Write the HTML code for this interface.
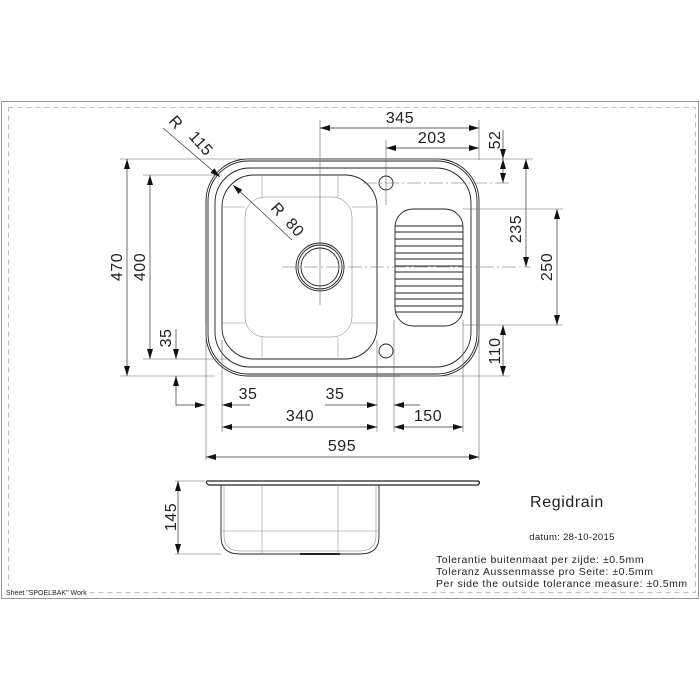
<!DOCTYPE html>
<html><head><meta charset="utf-8"><style>
html,body{margin:0;padding:0;background:#fff;}
svg{display:block;}
text{font-family:"Liberation Sans",sans-serif;fill:#222;}
</style></head><body>
<svg width="700" height="700" viewBox="0 0 700 700" xmlns="http://www.w3.org/2000/svg">
<defs>
<marker id="a" viewBox="0 0 10 6" refX="10" refY="3" markerWidth="10" markerHeight="6" markerUnits="userSpaceOnUse" orient="auto-start-reverse">
<path d="M0,0 L10,3 L0,6 Z" fill="#111"/></marker>
<clipPath id="dr"><path d="M413 209 H445 A18 18 0 0 1 463 227 V308 A18 18 0 0 1 445 326 H413 A18 18 0 0 1 395 308 V227 A18 18 0 0 1 413 209 Z"/></clipPath>
</defs>
<!-- frame -->
<rect x="1.5" y="101.5" width="697" height="497" fill="none" stroke="#999" stroke-width="1"/>
<rect x="8.5" y="107.5" width="687" height="485" fill="none" stroke="#aaa" stroke-width="0.8" stroke-dasharray="5,4"/>
<rect x="6" y="586" width="80" height="10" fill="#fff"/>
<text x="6" y="595" font-size="7">Sheet "SPOELBAK" Work</text>

<g fill="none" stroke="#222" stroke-width="0.9">
<rect x="206" y="159" width="273" height="217" rx="42"/>
<rect x="208" y="161" width="269" height="213" rx="40"/>
<rect x="215" y="168" width="256" height="199" rx="35"/>
<rect x="222" y="175" width="155" height="184" rx="32"/>
<rect x="245" y="197" width="107" height="140" rx="20" stroke-width="0.5" stroke="#777"/>
<g stroke="#888" stroke-width="0.5">
<line x1="262" y1="175" x2="262" y2="197"/><line x1="338" y1="175" x2="338" y2="197"/>
<line x1="262" y1="337" x2="262" y2="359"/><line x1="338" y1="337" x2="338" y2="359"/>
<line x1="222" y1="207" x2="245" y2="207"/><line x1="222" y1="323" x2="245" y2="323"/>
<line x1="352" y1="207" x2="377" y2="207"/><line x1="352" y1="323" x2="377" y2="323"/>
</g>
<circle cx="320" cy="267" r="24"/><circle cx="320" cy="267" r="22"/><circle cx="320" cy="267" r="19"/>
<circle cx="386" cy="183" r="7"/><circle cx="386" cy="351" r="7"/>
<path d="M413 209 H445 A18 18 0 0 1 463 227 V308 A18 18 0 0 1 445 326 H413 A18 18 0 0 1 395 308 V227 A18 18 0 0 1 413 209 Z"/>
<g clip-path="url(#dr)" stroke-width="0.9">
<line x1="390" y1="226" x2="470" y2="226"/><line x1="390" y1="232" x2="470" y2="232"/>
<line x1="390" y1="239" x2="470" y2="239"/><line x1="390" y1="246" x2="470" y2="246"/>
<line x1="390" y1="253" x2="470" y2="253"/><line x1="390" y1="259" x2="470" y2="259"/>
<line x1="390" y1="266" x2="470" y2="266"/><line x1="390" y1="272" x2="470" y2="272"/>
<line x1="390" y1="279" x2="470" y2="279"/><line x1="390" y1="286" x2="470" y2="286"/>
<line x1="390" y1="293" x2="470" y2="293"/><line x1="390" y1="299" x2="470" y2="299"/>
<line x1="390" y1="306" x2="470" y2="306"/><line x1="390" y1="312" x2="470" y2="312"/>
</g>
</g>

<g fill="none" stroke="#666" stroke-width="0.6">
<line x1="320" y1="120" x2="320" y2="305"/>
<line x1="282" y1="267" x2="530" y2="267" stroke-dasharray="14,3,2,3"/>
<line x1="386" y1="140" x2="386" y2="205"/>
<line x1="479" y1="120" x2="479" y2="160"/>
<line x1="120" y1="159" x2="533" y2="159"/>
<line x1="363" y1="183" x2="510" y2="183" stroke-dasharray="14,3,2,3"/>
<line x1="463" y1="209" x2="563" y2="209"/>
<line x1="463" y1="325" x2="563" y2="325"/>
<line x1="400" y1="376" x2="510" y2="376"/>
<line x1="120" y1="376" x2="215" y2="376"/>
<line x1="143" y1="175" x2="222" y2="175"/>
<line x1="143" y1="359" x2="230" y2="359"/>
<line x1="206" y1="325" x2="206" y2="460"/>
<line x1="222" y1="340" x2="222" y2="432"/>
<line x1="377" y1="340" x2="377" y2="432"/>
<line x1="394" y1="320" x2="394" y2="432"/>
<line x1="463" y1="320" x2="463" y2="432"/>
<line x1="479" y1="330" x2="479" y2="460"/>
<line x1="205" y1="481" x2="175" y2="481"/>
<line x1="221" y1="554" x2="175" y2="554"/>
</g>

<g fill="none" stroke="#333" stroke-width="0.7">
<line x1="320" y1="128" x2="479" y2="128" marker-start="url(#a)" marker-end="url(#a)"/>
<line x1="386" y1="148" x2="479" y2="148" marker-start="url(#a)" marker-end="url(#a)"/>
<line x1="503" y1="130" x2="503" y2="159" marker-end="url(#a)"/>
<line x1="503" y1="159" x2="503" y2="183" marker-start="url(#a)" marker-end="url(#a)"/>
<line x1="526" y1="159" x2="526" y2="267" marker-start="url(#a)" marker-end="url(#a)"/>
<line x1="557" y1="209" x2="557" y2="325" marker-start="url(#a)" marker-end="url(#a)"/>
<line x1="503" y1="325" x2="503" y2="376" marker-start="url(#a)" marker-end="url(#a)"/>
<line x1="127" y1="159" x2="127" y2="376" marker-start="url(#a)" marker-end="url(#a)"/>
<line x1="150" y1="175" x2="150" y2="359" marker-start="url(#a)" marker-end="url(#a)"/>
<line x1="176" y1="329" x2="176" y2="359" marker-end="url(#a)"/>
<polyline points="205,405 176,405 176,376" marker-start="url(#a)" marker-end="url(#a)"/>
<line x1="250" y1="405" x2="222" y2="405" marker-end="url(#a)"/>
<line x1="325" y1="405" x2="377" y2="405" marker-end="url(#a)"/>
<line x1="420" y1="405" x2="394" y2="405" marker-end="url(#a)"/>
<line x1="222" y1="427" x2="377" y2="427" marker-start="url(#a)" marker-end="url(#a)"/>
<line x1="394" y1="427" x2="463" y2="427" marker-start="url(#a)" marker-end="url(#a)"/>
<line x1="206" y1="457" x2="479" y2="457" marker-start="url(#a)" marker-end="url(#a)"/>
<line x1="163" y1="128" x2="220" y2="177" marker-end="url(#a)"/>
<line x1="292" y1="240" x2="233" y2="185" marker-end="url(#a)"/>
<line x1="178" y1="481" x2="178" y2="554" marker-start="url(#a)" marker-end="url(#a)"/>
</g>

<g font-size="16" text-anchor="middle" letter-spacing="0.5">
<text x="400" y="123">345</text>
<text x="432" y="143">203</text>
<text x="248" y="399">35</text>
<text x="335" y="399">35</text>
<text x="300" y="421">340</text>
<text x="428" y="421">150</text>
<text x="342" y="451">595</text>
<text transform="translate(500,140) rotate(-90)">52</text>
<text transform="translate(521,229) rotate(-90)">235</text>
<text transform="translate(552,267) rotate(-90)">250</text>
<text transform="translate(500,351) rotate(-90)">110</text>
<text transform="translate(122,267) rotate(-90)">470</text>
<text transform="translate(145,267) rotate(-90)">400</text>
<text transform="translate(171,338) rotate(-90)">35</text>
<text transform="translate(176,517) rotate(-90)">145</text>
<text transform="translate(172,126) rotate(48)">R</text>
<text transform="translate(197,147) rotate(48)">115</text>
<text transform="translate(274,213) rotate(48)">R</text>
<text transform="translate(291,231) rotate(48)">80</text>
</g>

<g fill="none" stroke="#222" stroke-width="0.9">
<path d="M207 481 H478 Q481 482 478 485 H209 Q205 483 207 481 Z" stroke-width="1.2"/>
<path d="M221 485 V537 Q221 554 240 554 H360 Q379 554 379 537 V485"/>
<path d="M224 485 V536 Q224 551 241 551 H359 Q376 551 376 536 V485" stroke-width="0.5" stroke="#777"/>
<line x1="300" y1="554" x2="340" y2="554" stroke-width="2"/>
<g stroke="#888" stroke-width="0.5">
<line x1="262" y1="485" x2="262" y2="554"/><line x1="338" y1="485" x2="338" y2="554"/>
<line x1="221" y1="531" x2="379" y2="531"/>
</g>
</g>

<text x="567" y="507" font-size="16" text-anchor="middle" letter-spacing="0.6">Regidrain</text>
<text x="572" y="540" font-size="9.5" text-anchor="middle" letter-spacing="0.3">datum: 28-10-2015</text>
<g font-size="10.5" letter-spacing="0.55">
<text x="436" y="563">Tolerantie buitenmaat per zijde: ±0.5mm</text>
<text x="436" y="575">Toleranz Aussenmasse pro Seite: ±0.5mm</text>
<text x="436" y="587">Per side the outside tolerance measure: ±0.5mm</text>
</g>
</svg>
</body></html>
